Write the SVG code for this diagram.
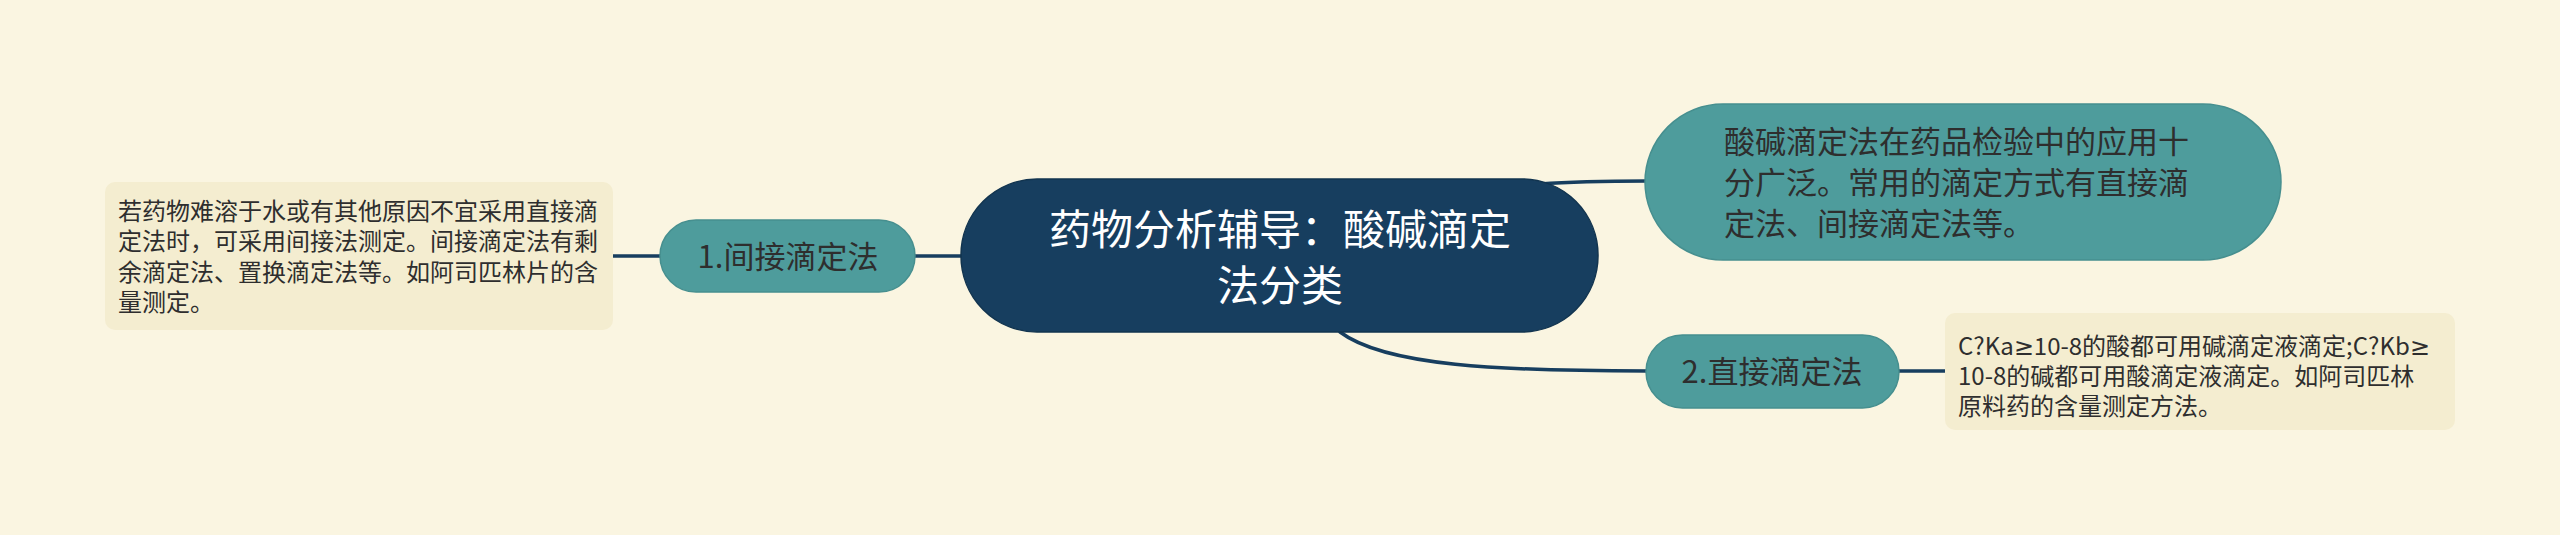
<svg xmlns="http://www.w3.org/2000/svg" width="2560" height="535" viewBox="0 0 2560 535">
<style>
  .bg { fill: #FAF5E1; }
  .note { fill: #F4EDD0; }
  .teal { fill: #4E9C9C; stroke: #468F8F; stroke-width: 1.5; }
  .root { fill: #173E5F; stroke: #12344F; stroke-width: 1.5; }
  .link { fill: none; stroke: #173E5F; stroke-width: 3.5; stroke-linecap: round; }
  .t { font-family: "Noto Sans CJK SC", "Noto Sans", sans-serif; fill: #2E2E2E; }
  .s24 { font-size: 24px; }
  .s31 { font-size: 31px; }
  .ge { font-family: "Noto Sans", "DejaVu Sans", sans-serif; }
  .rt { font-family: "Noto Sans CJK SC", "Noto Sans", sans-serif; font-size: 42px; fill: #FFFFFF; }
</style>
<rect class="bg" x="0" y="0" width="2560" height="535"/>
<g id="connectors">
  <path class="link" d="M613,256 L662,256"/>
  <path class="link" d="M913,256 L963,256"/>
  <path class="link" d="M1540,184 C1580,181 1610,181 1647,181"/>
  <path class="link" d="M1340,332 C1385,366 1500,371 1647,371"/>
  <path class="link" d="M1897,371 L1946,371"/>
</g>
<g id="root">
  <rect class="root" x="961" y="179" width="637" height="153" rx="76" ry="76"/>
  <text class="rt" x="1280" y="245" text-anchor="middle">药物分析辅导：酸碱滴定</text>
  <text class="rt" x="1280" y="301" text-anchor="middle">法分类</text>
</g>
<g id="node-indirect">
  <rect class="teal" x="660" y="220" width="255" height="72" rx="36" ry="36"/>
  <text class="t s31" x="788" y="268" text-anchor="middle">1.间接滴定法</text>
</g>
<g id="note-indirect">
  <rect class="note" x="105" y="182" width="508" height="148" rx="10" ry="10"/>
  <text class="t s24" x="118" y="220">若药物难溶于水或有其他原因不宜采用直接滴</text>
  <text class="t s24" x="118" y="250">定法时，可采用间接法测定。间接滴定法有剩</text>
  <text class="t s24" x="118" y="281">余滴定法、置换滴定法等。如阿司匹林片的含</text>
  <text class="t s24" x="118" y="311">量测定。</text>
</g>
<g id="node-overview">
  <rect class="teal" x="1645" y="104" width="636" height="156" rx="78" ry="78"/>
  <text class="t s31" x="1724" y="153">酸碱滴定法在药品检验中的应用十</text>
  <text class="t s31" x="1724" y="194">分广泛。常用的滴定方式有直接滴</text>
  <text class="t s31" x="1724" y="235">定法、间接滴定法等。</text>
</g>
<g id="node-direct">
  <rect class="teal" x="1646" y="335" width="253" height="73" rx="36.5" ry="36.5"/>
  <text class="t s31" x="1772" y="383" text-anchor="middle">2.直接滴定法</text>
</g>
<g id="note-direct">
  <rect class="note" x="1945" y="313" width="510" height="117" rx="10" ry="10"/>
  <text class="t s24" x="1958" y="355">C?Ka<tspan class="ge">≥</tspan>10-8的酸都可用碱滴定液滴定;C?Kb<tspan class="ge">≥</tspan></text>
  <text class="t s24" x="1958" y="385">10-8的碱都可用酸滴定液滴定。如阿司匹林</text>
  <text class="t s24" x="1958" y="415">原料药的含量测定方法。</text>
</g>
</svg>
